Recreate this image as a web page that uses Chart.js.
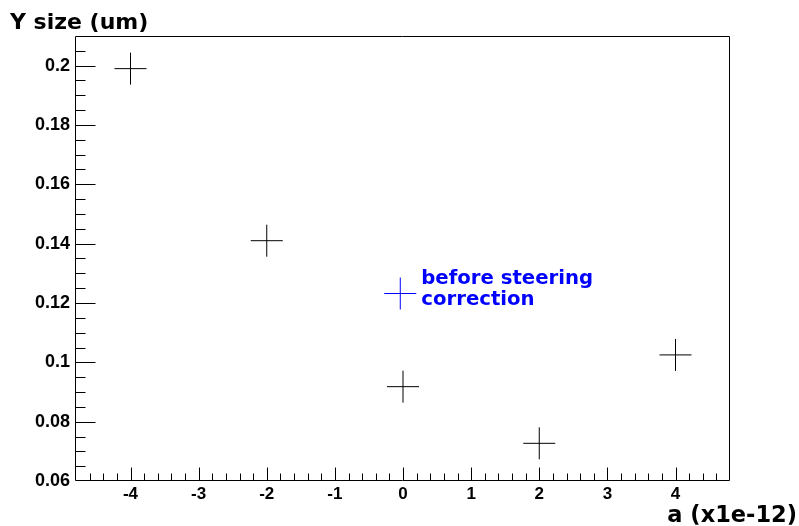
<!DOCTYPE html>
<html lang="en">
<head>
    <meta charset="UTF-8">
    <title>Y size vs a</title>
    <script src="https://cdn.jsdelivr.net/npm/chart.js"></script>
    <style>
        body {
            margin: 0;
            background: white;
        }
        #wrap {
            width: 799px;
            height: 526px;
        }
    </style>
</head>
<body>
    <div id="wrap"><canvas id="chart" width="799" height="526"></canvas></div>

    <script>
        // a (x1e-12) against Y size (um)
        const aValues = [-4, -2, 0, 2, 4];
        const ySizes = [0.199, 0.141, 0.0918, 0.0727, 0.1025];

        // single marker for the value before steering correction
        const beforeA = [-0.04];
        const beforeY = [0.1232];
        const beforeLabel = ['before steering', 'correction'];

        const xTicks = [-4, -3, -2, -1, 0, 1, 2, 3, 4];
        const yTicks = [0.06, 0.08, 0.1, 0.12, 0.14, 0.16, 0.18, 0.2];
        const xRange = [-4.8, 4.8];
        const yRange = [0.06, 0.21];
        const xMinorStep = 0.2;
        const yMinorStep = 0.005;

        const labelFont = {family: 'Liberation Sans', weight: 'bold'};

        // ROOT style frame with inside ticks, plus axis titles and the note
        const rootFrame = {
            id: 'rootFrame',
            beforeDatasetsDraw(chart) {
                const {ctx, chartArea: a, scales} = chart;
                ctx.save();
                ctx.strokeStyle = '#000';
                ctx.lineWidth = 1;
                ctx.beginPath();
                const L = a.left - 0.5, R = a.right - 0.5, T = a.top + 0.5, B = a.bottom - 0.5;
                ctx.moveTo(L, T); ctx.lineTo(R, T); ctx.lineTo(R, B); ctx.lineTo(L, B); ctx.closePath();

                // x ticks, drawn upwards from the bottom edge
                const nx = Math.round((xRange[1] - xRange[0]) / xMinorStep);
                for (let i = 1; i < nx; i++) {
                    const v = +(xRange[0] + i * xMinorStep).toFixed(4);
                    const major = xTicks.some(t => Math.abs(t - v) < 1e-6);
                    const px = Math.round(scales.x.getPixelForValue(v)) + 0.5;
                    ctx.moveTo(px, B);
                    ctx.lineTo(px, B - (major ? 13 : 7));
                }

                // y ticks, drawn rightwards from the left edge
                const ny = Math.round((yRange[1] - yRange[0]) / yMinorStep);
                for (let i = 1; i < ny; i++) {
                    const v = +(yRange[0] + i * yMinorStep).toFixed(5);
                    const major = yTicks.some(t => Math.abs(t - v) < 1e-7);
                    const py = Math.round(scales.y.getPixelForValue(v)) + 0.5;
                    ctx.moveTo(L, py);
                    ctx.lineTo(L + (major ? 20 : 10), py);
                }
                ctx.stroke();
                ctx.restore();
            },
            afterDraw(chart) {
                const {ctx, scales} = chart;
                ctx.save();
                ctx.fillStyle = '#000';
                ctx.textBaseline = 'alphabetic';
                ctx.font = 'bold 22px "DejaVu Sans"';
                ctx.textAlign = 'left';
                ctx.fillText('Y size (um)', 10, 29);

                ctx.font = 'bold 22.5px "DejaVu Sans"';
                ctx.textAlign = 'right';
                ctx.fillText('a (x1e-12)', 797, 522);

                // note next to the blue marker
                const px = scales.x.getPixelForValue(beforeA[0]);
                const py = scales.y.getPixelForValue(beforeY[0]);
                ctx.fillStyle = '#0000ff';
                ctx.font = 'bold 19.7px "DejaVu Sans"';
                ctx.textAlign = 'left';
                ctx.fillText(beforeLabel[0], px + 21, py - 9.5);
                ctx.fillText(beforeLabel[1], px + 21, py + 11.5);
                ctx.restore();
            }
        };

        new Chart(document.getElementById('chart'), {
            type: 'scatter',
            data: {
                datasets: [{
                    label: 'Y size',
                    data: aValues.map((a, i) => ({x: a, y: ySizes[i]})),
                    pointStyle: 'cross',
                    pointRadius: 16,
                    borderWidth: 1,
                    borderColor: '#000',
                    backgroundColor: '#000'
                }, {
                    label: beforeLabel.join(' '),
                    data: beforeA.map((a, i) => ({x: a, y: beforeY[i]})),
                    pointStyle: 'cross',
                    pointRadius: 16,
                    borderWidth: 1,
                    borderColor: '#0000ff',
                    backgroundColor: '#0000ff'
                }]
            },
            options: {
                responsive: false,
                animation: false,
                events: [],
                layout: {padding: {top: 36, right: 69, left: 0, bottom: 0}},
                plugins: {
                    legend: {display: false},
                    tooltip: {enabled: false}
                },
                scales: {
                    x: {
                        type: 'linear',
                        min: xRange[0],
                        max: xRange[1],
                        afterBuildTicks: s => { s.ticks = xTicks.map(v => ({value: v})); },
                        afterFit: s => { s.height = 45; },
                        grid: {display: false, drawTicks: false},
                        border: {display: false},
                        ticks: {
                            padding: 3,
                            color: '#000',
                            autoSkip: false,
                            maxRotation: 0,
                            font: {...labelFont, size: 17},
                            callback: v => String(v)
                        }
                    },
                    y: {
                        type: 'linear',
                        min: yRange[0],
                        max: yRange[1],
                        afterBuildTicks: s => { s.ticks = yTicks.map(v => ({value: v})); },
                        afterFit: s => { s.width = 76; },
                        grid: {display: false, drawTicks: false},
                        border: {display: false},
                        ticks: {
                            padding: 6,
                            color: '#000',
                            autoSkip: false,
                            font: {...labelFont, size: 18},
                            callback: v => String(+v.toFixed(3))
                        }
                    }
                }
            },
            plugins: [rootFrame]
        });
    </script>
</body>
</html>
